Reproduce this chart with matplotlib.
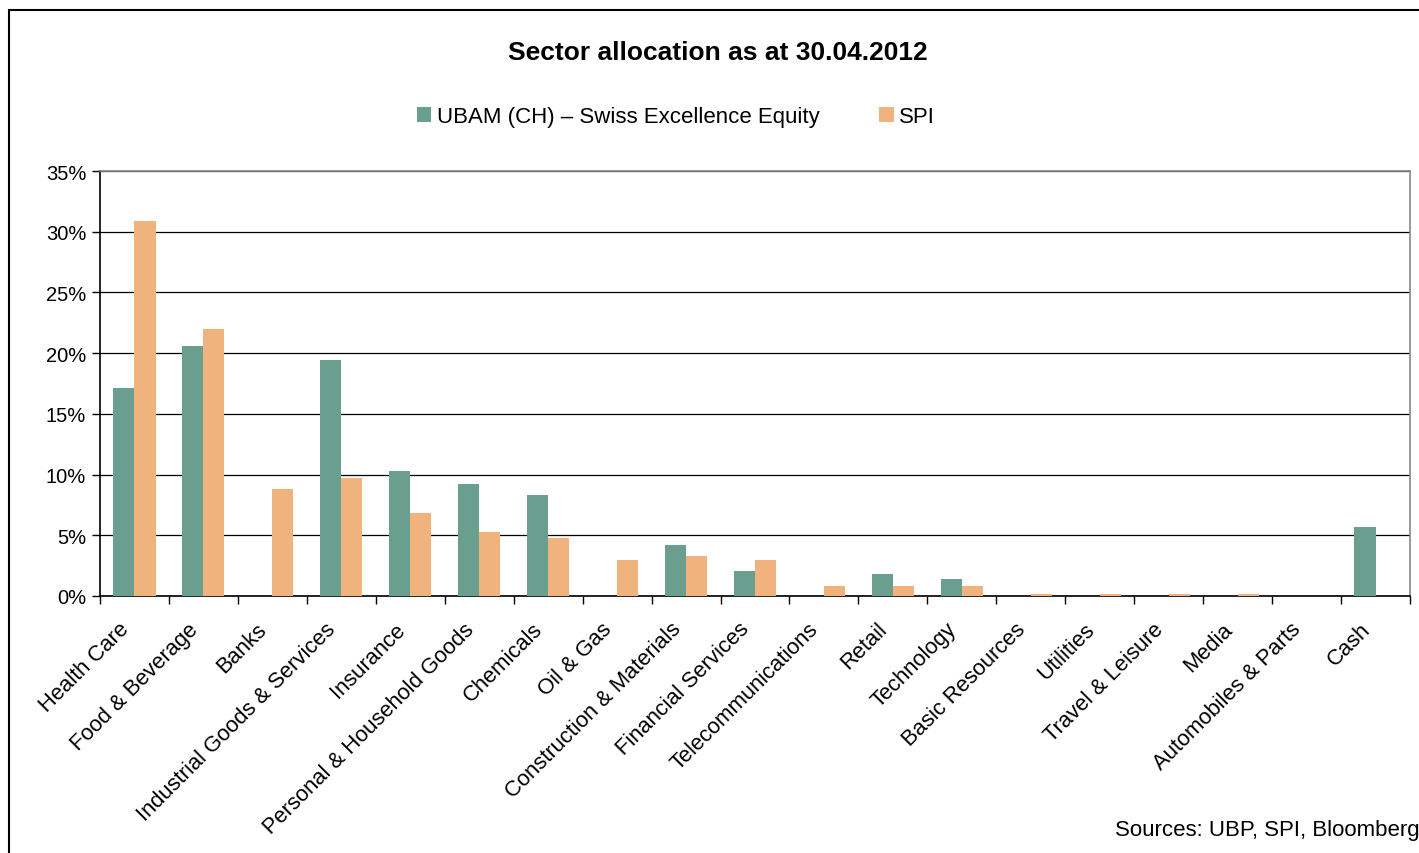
import numpy as np
import matplotlib.pyplot as plt
from matplotlib.patches import Rectangle
from matplotlib.ticker import FuncFormatter
from matplotlib.transforms import ScaledTranslation

#--------------------
# data

sectors = ['Health Care', 'Food & Beverage', 'Banks', 'Industrial Goods & Services',
           'Insurance', 'Personal & Household Goods', 'Chemicals', 'Oil & Gas',
           'Construction & Materials', 'Financial Services', 'Telecommunications',
           'Retail', 'Technology', 'Basic Resources', 'Utilities', 'Travel & Leisure',
           'Media', 'Automobiles & Parts', 'Cash']
ubam = [17.1, 20.6, 0.0, 19.4, 10.3, 9.2, 8.3, 0.0, 4.2, 2.1, 0.0,
        1.8, 1.4, 0.0, 0.0, 0.0, 0.0, 0.0, 5.7]
spi = [30.9, 22.0, 8.8, 9.7, 6.8, 5.3, 4.8, 3.0, 3.3, 3.0, 0.8,
       0.8, 0.8, 0.15, 0.15, 0.15, 0.15, 0.0, 0.0]

green = '#6a9f8f'
orange = '#f0b37e'

plt.rcParams['font.family'] = ['Liberation Sans', 'DejaVu Sans']

fig = plt.figure(figsize=(14.19, 8.54), dpi=100, facecolor='w')
ax = fig.add_axes([100 / 1419, 1 - 597 / 854, 1310 / 1419, 425 / 854])

x = np.arange(len(sectors))
w = 0.305
ax.bar(x - w / 2, ubam, width=w, color=green, zorder=3,
       label='UBAM (CH) \u2013 Swiss Excellence Equity')
ax.bar(x + w / 2, spi, width=w, color=orange, zorder=3, label='SPI')

ax.set_xlim(-0.5, len(sectors) - 0.5)
ax.set_ylim(0, 35)
ax.set_yticks(np.arange(0, 36, 5))
ax.yaxis.set_major_formatter(FuncFormatter(lambda v, p: '%d%%' % v))
ax.yaxis.grid(True, color='black', linewidth=0.9, zorder=0)

ax.set_xticks(x)
ax.set_xticklabels(sectors, rotation=45, ha='right', rotation_mode='anchor')
ax.set_xticks(np.arange(-0.5, len(sectors), 1), minor=True)
ax.tick_params(axis='x', which='major', length=0, pad=11, labelsize=15.8)
ax.tick_params(axis='x', which='minor', length=6, width=1, color='black')
ax.tick_params(axis='y', length=6, width=1, labelsize=14.5, pad=4)

offset = ScaledTranslation(-16 / 100, -7 / 100, fig.dpi_scale_trans)
for lab in ax.get_xticklabels():
    lab.set_transform(lab.get_transform() + offset)

for s in ['top', 'right']:
    ax.spines[s].set_color('#888888')
    ax.spines[s].set_linewidth(1.2)
for s in ['left', 'bottom']:
    ax.spines[s].set_color('black')
    ax.spines[s].set_linewidth(1.2)

fig.text(718 / 1419, 1 - 53 / 854, 'Sector allocation as at 30.04.2012',
         ha='center', va='center', fontsize=19, fontweight='bold')

fig.legend(loc='center', bbox_to_anchor=(676 / 1419, 1 - 118 / 854), ncol=2,
           frameon=False, fontsize=16, handlelength=0.65, handleheight=0.65,
           handletextpad=0.25, columnspacing=2.7)

fig.text(1115 / 1419, 1 - 831 / 854, 'Sources: UBP, SPI, Bloomberg',
         ha='left', va='center', fontsize=16)

# outer frame
fig.patches.append(Rectangle((9 / 1419, -0.1), 1.2, 1 - 11 / 854 + 0.1,
                             transform=fig.transFigure, fill=False,
                             edgecolor='black', linewidth=1.5))

fig.savefig('out.png', dpi=100)
